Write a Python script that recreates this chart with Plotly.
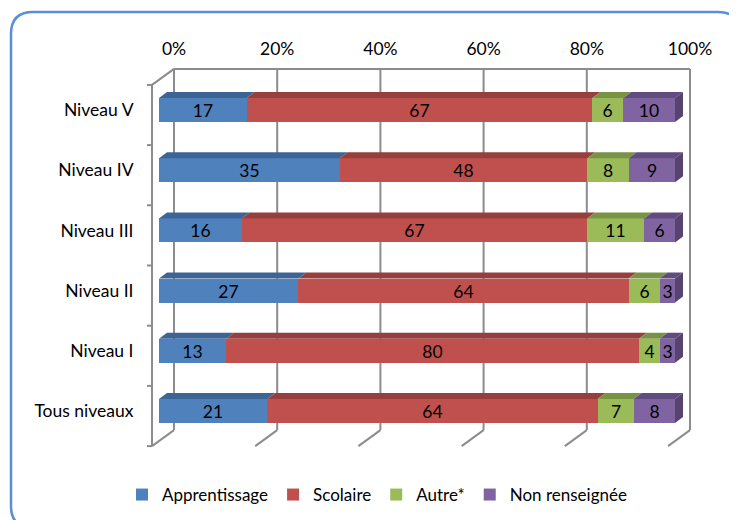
import plotly.graph_objects as go

W, H = 737, 520
OFF = 8  # the page body margin shifts the figure by 8px

niveaux = ["Niveau V", "Niveau IV", "Niveau III", "Niveau II", "Niveau I", "Tous niveaux"]
apprentissage = [17, 35, 16, 27, 13, 21]
scolaire = [67, 48, 67, 64, 80, 64]
autre = [6, 8, 11, 6, 4, 7]
non_renseignee = [10, 9, 6, 3, 3, 8]
pct_ticks = [0, 20, 40, 60, 80, 100]

series = [
    ("Apprentissage", apprentissage, "#4F81BD", "#3C6596"),
    ("Scolaire", scolaire, "#C0504D", "#963F3C"),
    ("Autre*", autre, "#9BBB59", "#789344"),
    ("Non renseignée", non_renseignee, "#8064A2", "#604C7E"),
]
side_color = "#56436F"
grid_color = "#8C8C8C"
font = "Lato, 'Open Sans', sans-serif"
fsize = 17.5

# calibration: front plane of the bars, in figure pixels
X0_PX, PX_PER_PCT = 159 - OFF, 5.16
Y0_PX, PX_PER_ROW = 411 - OFF, 60.2
xr = [-X0_PX / PX_PER_PCT, (W - X0_PX) / PX_PER_PCT]
yr = [-(H - Y0_PX) / PX_PER_ROW, Y0_PX / PX_PER_ROW]

BAR_W = 24 / PX_PER_ROW
BAR_DX, BAR_DY = 8 / PX_PER_PCT, 6 / PX_PER_ROW        # bar depth
BACK_DX, BACK_DY = 15 / PX_PER_PCT, 11 / PX_PER_ROW    # back wall offset
FRONT_DX, FRONT_DY = -7 / PX_PER_PCT, -5 / PX_PER_ROW  # front edge of side wall

n = len(niveaux)
ypos = [n - 1 - k for k in range(n)]

fig = go.Figure()
for name, vals, col, _ in series:
    fig.add_trace(go.Bar(
        y=ypos, x=vals, orientation="h", name=name, width=BAR_W,
        marker=dict(color=col, line=dict(width=0)),
        text=vals, textposition="inside", insidetextanchor="middle",
        textangle=0, textfont=dict(family=font, size=fsize, color="black"),
        hoverinfo="skip",
    ))

shapes = []
line = dict(color=grid_color, width=2)

# back wall gridlines + floor diagonals
y_lo, y_hi = -0.5, n - 0.5
for g in pct_ticks:
    shapes.append(dict(type="line", xref="x", yref="y", layer="below",
                       x0=g + BACK_DX, x1=g + BACK_DX,
                       y0=y_lo + BACK_DY, y1=y_hi + BACK_DY, line=line))
    shapes.append(dict(type="line", xref="x", yref="y", layer="below",
                       x0=g + BACK_DX, x1=g + FRONT_DX,
                       y0=y_lo + BACK_DY, y1=y_lo + FRONT_DY, line=line))
# top edge of the back wall
shapes.append(dict(type="line", xref="x", yref="y", layer="below",
                   x0=pct_ticks[0] + BACK_DX, x1=pct_ticks[-1] + BACK_DX,
                   y0=y_hi + BACK_DY, y1=y_hi + BACK_DY, line=line))
# left wall
shapes.append(dict(type="line", xref="x", yref="y", layer="below",
                   x0=FRONT_DX, x1=FRONT_DX, y0=y_lo + FRONT_DY, y1=y_hi + FRONT_DY, line=line))
shapes.append(dict(type="line", xref="x", yref="y", layer="below",
                   x0=FRONT_DX, x1=BACK_DX, y0=y_hi + FRONT_DY, y1=y_hi + BACK_DY, line=line))
for k in range(n + 1):
    yb = y_lo + k + FRONT_DY
    shapes.append(dict(type="line", xref="x", yref="y", layer="below",
                       x0=FRONT_DX - 5 / PX_PER_PCT, x1=FRONT_DX, y0=yb, y1=yb, line=line))

# 3D faces of the bars
for r in range(n):
    left = 0
    yt = ypos[r] + BAR_W / 2
    yb = ypos[r] - BAR_W / 2
    for name, vals, col, top in series:
        right = left + vals[r]
        shapes.append(dict(
            type="path", xref="x", yref="y", layer="above",
            path=f"M{left},{yt} L{right},{yt} L{right + BAR_DX},{yt + BAR_DY} "
                 f"L{left + BAR_DX},{yt + BAR_DY} Z",
            fillcolor=top, line=dict(width=0)))
        left = right
    shapes.append(dict(
        type="path", xref="x", yref="y", layer="above",
        path=f"M{left},{yb} L{left},{yt} L{left + BAR_DX},{yt + BAR_DY} "
             f"L{left + BAR_DX},{yb + BAR_DY} Z",
        fillcolor=side_color, line=dict(width=0)))

# rounded frame around the chart (figure pixels)
fx0, fy0, fx1, fy1, rad = 11 - OFF, 12 - OFF, 740 - OFF, 528 - OFF, 22
px = lambda v: v / W
py = lambda v: 1 - v / H
frame = (f"M{px(fx0)},{py(fy1 - rad)} L{px(fx0)},{py(fy0 + rad)} "
         f"Q{px(fx0)},{py(fy0)} {px(fx0 + rad)},{py(fy0)} "
         f"L{px(fx1 - rad)},{py(fy0)} Q{px(fx1)},{py(fy0)} {px(fx1)},{py(fy0 + rad)} "
         f"L{px(fx1)},{py(fy1 - rad)} Q{px(fx1)},{py(fy1)} {px(fx1 - rad)},{py(fy1)} "
         f"L{px(fx0 + rad)},{py(fy1)} Q{px(fx0)},{py(fy1)} {px(fx0)},{py(fy1 - rad)} Z")
shapes.append(dict(type="path", xref="paper", yref="paper", path=frame,
                   line=dict(color="#5B8ED6", width=2.5), layer="below"))

fig.update_layout(
    width=W, height=H,
    margin=dict(l=0, r=0, t=0, b=0),
    paper_bgcolor="white", plot_bgcolor="white",
    barmode="stack", bargap=0,
    font=dict(family=font, size=fsize, color="black"),
    uniformtext=dict(minsize=fsize, mode="show"),
    shapes=shapes,
    xaxis=dict(domain=[0, 1], range=xr, side="top", anchor="free",
               position=1 - (58 - OFF) / H,
               tickvals=[g + BACK_DX for g in pct_ticks],
               ticktext=[f"{p}%" for p in pct_ticks],
               showgrid=False, zeroline=False, showline=False, ticks="",
               tickfont=dict(family=font, size=fsize, color="black"),
               fixedrange=True),
    yaxis=dict(domain=[0, 1], range=yr, anchor="free", position=X0_PX / W,
               tickvals=ypos, ticktext=niveaux, ticks="outside", ticklen=22,
               tickcolor="rgba(0,0,0,0)", showgrid=False, zeroline=False,
               showline=False, tickfont=dict(family=font, size=fsize, color="black"),
               fixedrange=True),
    legend=dict(orientation="h", traceorder="normal",
                x=(136 - OFF - 14) / W, xanchor="left", y=1 - (491 - OFF - 14) / H,
                yanchor="top", font=dict(family=font, size=17, color="black"),
                bgcolor="rgba(0,0,0,0)"),
    showlegend=True,
)

fig.write_html("out.html")
